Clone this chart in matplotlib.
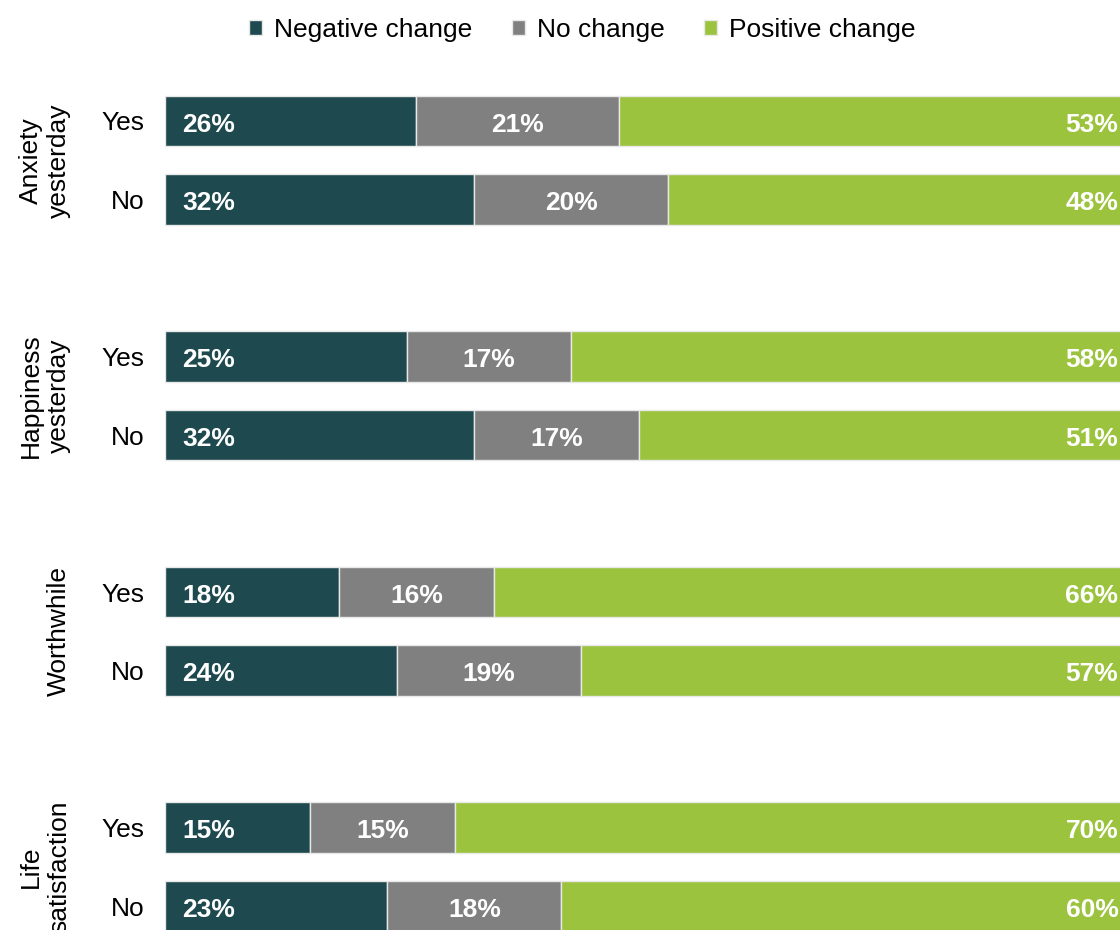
import numpy as np
import matplotlib.pyplot as plt

plt.rcParams['font.family'] = ['Liberation Sans', 'DejaVu Sans']

groups = ['Anxiety\nyesterday', 'Happiness\nyesterday', 'Worthwhile', 'Life\nsatisfaction']
answers = ['Yes', 'No']
negative = [26, 32, 25, 32, 18, 24, 15, 23]
no_change = [21, 20, 17, 17, 16, 19, 15, 18]
positive = [53, 48, 58, 51, 66, 57, 70, 60]

series = ['Negative change', 'No change', 'Positive change']
colors = ['#1E4A4F', '#808080', '#9BC33D']

W, H = 1120, 930
fig = plt.figure(figsize=(W / 100, H / 100), dpi=100)

# axes reaches past the right edge, the reference is cropped there
x0, x100 = 165, 1132
ax = fig.add_axes([x0 / W, 0, (x100 - x0) / W, 1])

pos = []
for g in range(len(groups)):
    pos += [g * 3, g * 3 + 1]
pos = np.array(pos, dtype=float)

px_per_unit = 78.5
top = -121 / px_per_unit
bottom = (H - 121) / px_per_unit
ax.set_ylim(bottom, top)
ax.set_xlim(0, 100)

left = np.zeros(len(pos))
for vals, col, name in zip([negative, no_change, positive], colors, series):
    ax.barh(pos, vals, left=left, height=0.64, color=col, edgecolor='#e8e8e8',
            linewidth=1, label=name)
    left += np.array(vals)

fs = 19
pad = 1.8
dy = 0.045
for i, p in enumerate(pos):
    ax.text(pad, p + dy, f'{negative[i]}%', ha='left', va='center', color='white',
            fontsize=fs, fontweight='bold')
    ax.text(negative[i] + no_change[i] / 2, p + dy, f'{no_change[i]}%', ha='center',
            va='center', color='white', fontsize=fs, fontweight='bold')
    ax.text(100 - 1.4, p + dy, f'{positive[i]}%', ha='right', va='center',
            color='white', fontsize=fs, fontweight='bold', clip_on=False)

ax.set_yticks(pos)
ax.set_yticklabels(answers * len(groups), fontsize=fs)
ax.tick_params(axis='y', length=0, pad=15)
ax.set_xticks([])
for s in ax.spines.values():
    s.set_visible(False)

for g, name in enumerate(groups):
    yc = g * 3 + 0.5
    yfig = 1 - (yc - top) / (bottom - top)
    fig.text(71 / W, yfig, name, rotation=90, ha='right', va='center',
             multialignment='center', fontsize=fs, linespacing=1.2)

fig.legend(loc='upper center', bbox_to_anchor=(0.52, 1.006), ncol=3,
           frameon=False, fontsize=fs, handlelength=0.5, handleheight=0.5,
           handletextpad=0.45, columnspacing=1.5)

fig.savefig('out.png', dpi=100)
